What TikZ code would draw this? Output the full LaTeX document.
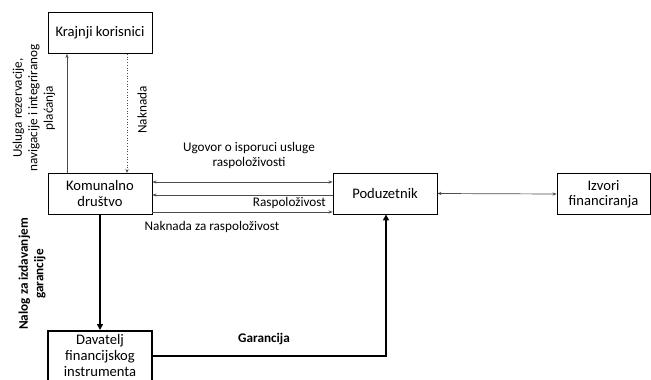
\documentclass[tikz,border=0pt]{standalone}
\usepackage{fontspec}
\setmainfont{Carlito}
\usetikzlibrary{arrows.meta}
\begin{document}
\begin{tikzpicture}[x=1pt,y=-1pt,
  box/.style={draw=black,line width=0.9pt,minimum width=104pt,minimum height=41pt,inner sep=0pt,align=center,font=\fontsize{14.6}{15.5}\selectfont},
  lbl/.style={font=\fontsize{13.2}{15.5}\selectfont,align=center,inner sep=0pt},
  thin/.style={draw=black!70,line width=0.7pt,-{Stealth[length=4pt,width=3.2pt]}},
  thick/.style={draw=black,line width=2pt,-{Triangle[length=6pt,width=6pt]}}]
\useasboundingbox (0,0) rectangle (651,380);
\begin{scope}
\clip (0,0) rectangle (651,380);
\node[box] (kk) at (100,33) {Krajnji korisnici};
\node[box] (kd) at (100,193.5) {Komunalno\\društvo};
\node[box] (pz) at (385,193.5) {Poduzetnik};
\node[box,minimum width=93pt] (iz) at (603.5,194) {Izvori\\financiranja};
\node[box,line width=1.6pt,minimum height=66pt,anchor=north] (dv) at (100,330) {};
\end{scope}
\node[lbl,font=\fontsize{14.6}{16}\selectfont] (dvt) at (100,355) {Davatelj\\financijskog\\instrumenta};
% vertical connections to end users
\coordinate (u1) at (67,173);
\coordinate (u2) at (67,54);
\draw[thin] (u1) -- (u2);
\coordinate (n1) at (127,54);
\coordinate (n2) at (127,173);
\draw[thin,dotted] (n1) -- (n2);
\node[lbl,rotate=90] (ul) at (34,108) {Usluga rezervacije,\\navigacije i integriranog\\plaćanja};
\node[lbl,rotate=90] (nl) at (142,110) {Naknada};
% horizontal connections
\draw[thin,{Stealth[length=4pt,width=3.2pt]}-{Stealth[length=4pt,width=3.2pt]}] (kd.east |- 0,182) -- (pz.west |- 0,182);
\draw[thin] (pz.west |- 0,195) -- (kd.east |- 0,195);
\draw[thin] (kd.east |- 0,212) -- (pz.west |- 0,212);
\node[lbl] (ug) at (249,155.5) {Ugovor o isporuci usluge\\raspoloživosti};
\node[lbl,anchor=east] (rl) at (326,203) {Raspoloživost};
\node[lbl] (nz) at (212,227) {Naknada za raspoloživost};
\draw[thin,{Stealth[length=4pt,width=3.2pt]}-{Stealth[length=4pt,width=3.2pt]}] (pz.east) -- (iz.west);
% guarantee
\draw[thick] (kd.south) -- (dv.north);
\node[lbl,rotate=90,font=\fontsize{13.2}{15.5}\bfseries] (nal) at (32,274) {Nalog za izdavanjem\\garancije};
\draw[thick] (dv.east |- 0,356) -- (386,356) -- (pz.south -| 386,0);
\node[lbl,font=\fontsize{13.2}{15.5}\bfseries] (gl) at (264,339) {Garancija};
\end{tikzpicture}
\end{document}
